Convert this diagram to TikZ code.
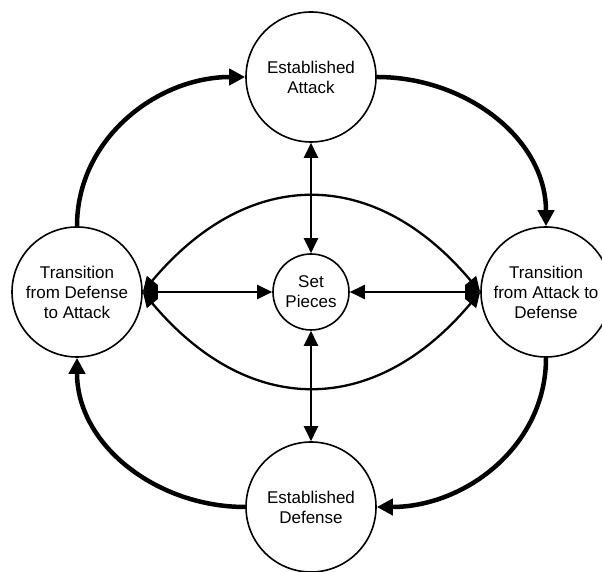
\documentclass[tikz,border=0pt]{standalone}
\usepackage{fontspec}
\setmainfont{Liberation Sans}
\usetikzlibrary{arrows.meta}
\tikzset{
bub/.style={circle,draw,line width=1.6pt,minimum size=130pt,inner sep=0pt,align=center,font=\fontsize{17}{20}\selectfont},
sbub/.style={bub,minimum size=76pt},
thk/.style={line width=4.5pt,-{Triangle[length=16pt,width=16pt]}},
thn/.style={line width=2.3pt,{Triangle[length=15pt,width=14pt]}-{Triangle[length=15pt,width=14pt]}}
}
\begin{document}
\begin{tikzpicture}[x=1pt,y=1pt]
\useasboundingbox (0,0) rectangle (602,572);
\clip (0,0) rectangle (602,572);

\node[bub] (att) at (311,495) {Established\\Attack};
\node[bub] (tda) at (77,280) {Transition\\from Defense\\to Attack};
\node[bub] (tad) at (546,280) {Transition\\from Attack to\\Defense};
\node[bub] (def) at (311,65) {Established\\Defense};
\node[sbub] (set) at (311,280) {Set\\Pieces};

\draw[thk] (tda.north) to[out=90,in=180] (att.west);
\draw[thk] (att.east) to[out=0,in=90] (tad.north);
\draw[thk] (tad.south) to[out=-90,in=0] (def.east);
\draw[thk] (def.west) to[out=180,in=-90] (tda.south);

\draw[thn] (att.south) -- (set.north);
\draw[thn] (def.north) -- (set.south);
\draw[thn] (tda.east) -- (set.west);
\draw[thn] (tad.west) -- (set.east);
\draw[thn] (tda.east) to[out=50,in=130,looseness=1.25] (tad.west);
\draw[thn] (tda.east) to[out=-50,in=-130,looseness=1.25] (tad.west);

\end{tikzpicture}
\end{document}
